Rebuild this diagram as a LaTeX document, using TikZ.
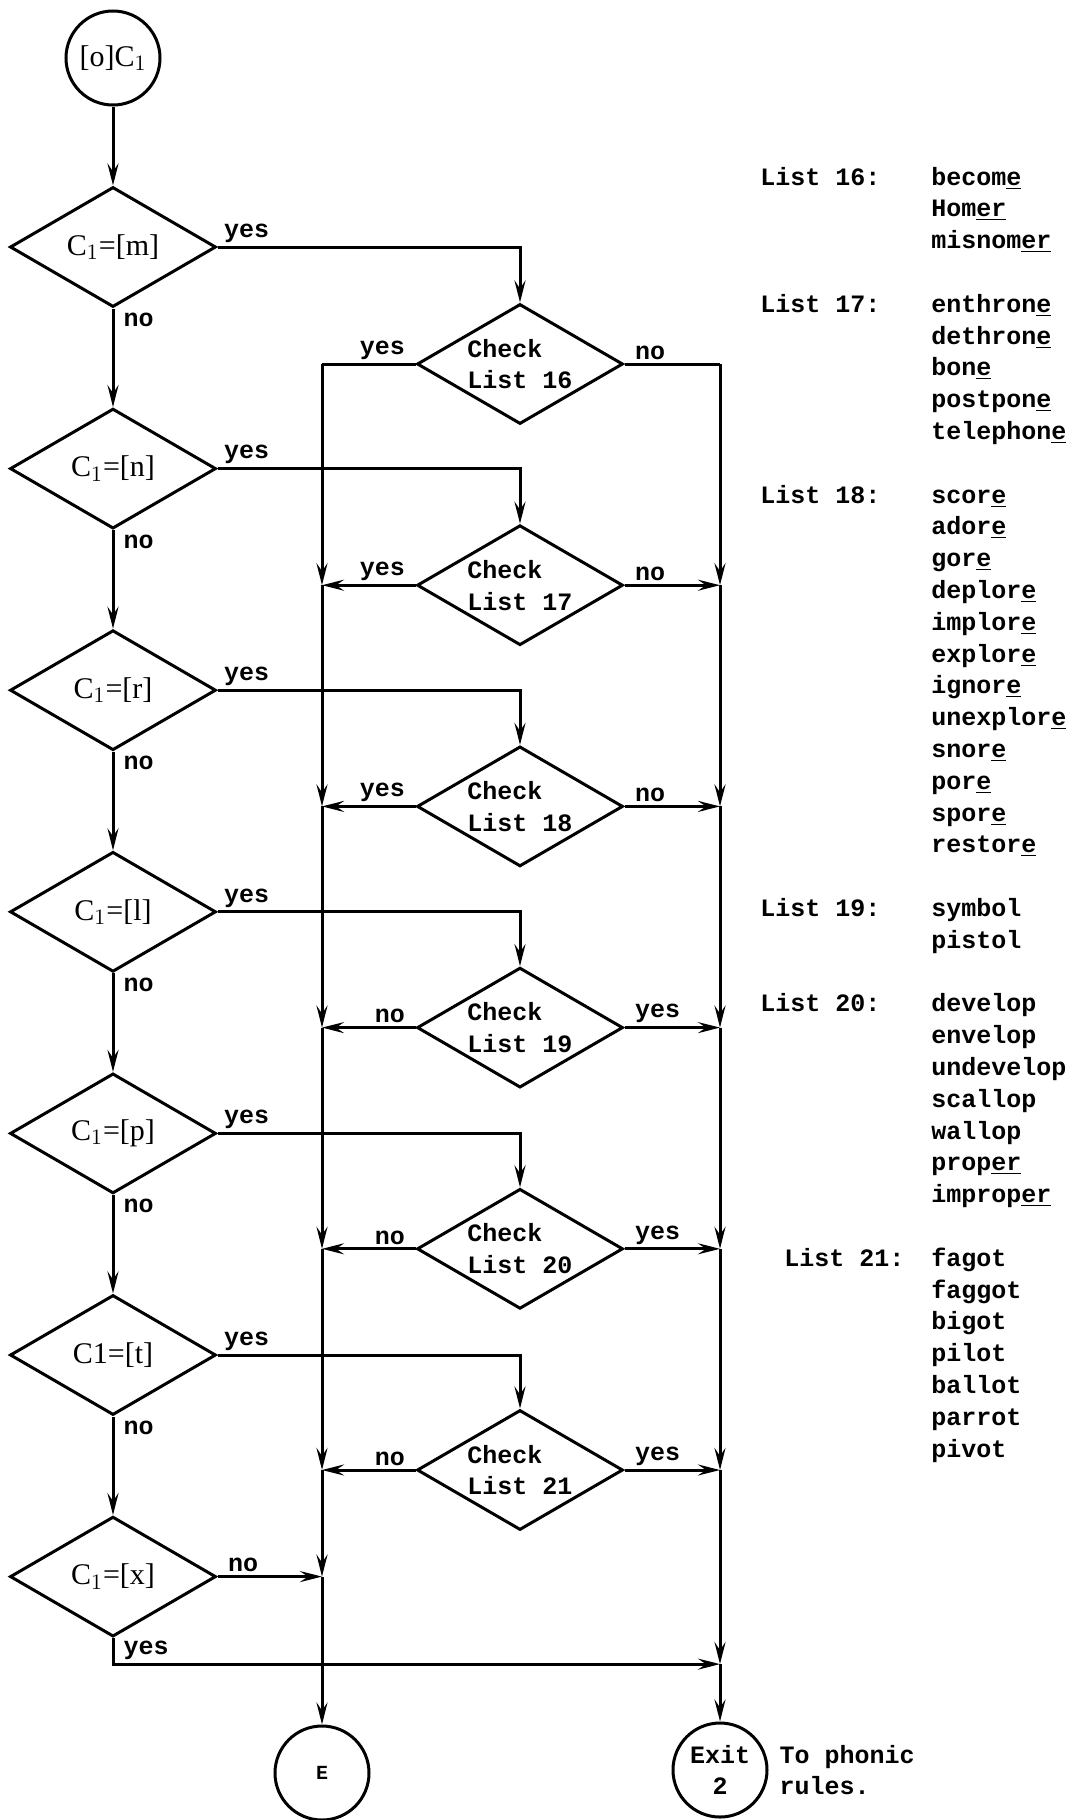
\documentclass[tikz,border=0pt]{standalone}
\usepackage{fontspec}
\setmainfont{Liberation Serif}
\setmonofont{Liberation Mono}
\usepackage{tikz}
\usetikzlibrary{positioning,arrows.meta,shapes.geometric}
\newcommand{\ule}[1]{\underline{#1}}

\begin{document}
\begin{tikzpicture}[
  x=0.5pt,y=-0.5pt,
  font=\ttfamily\bfseries\fontsize{12.5}{15.9}\selectfont,
  term/.style={draw,circle,line width=1.5pt,minimum size=47pt,inner sep=0pt,align=center},
  test/.style={draw,diamond,aspect=1.7,line width=1.5pt,minimum width=103pt,minimum height=60pt,inner sep=0pt,align=left},
  cond/.style={test,font=\rmfamily\mdseries\fontsize{15}{17}\selectfont},
  ln/.style={line width=1.5pt},
  ar/.style={ln,-{Stealth[length=11pt,width=5.5pt,inset=4pt]}},
  yl/.style={pos=0,anchor=south west,inner sep=1.5pt,xshift=1pt},
  nl/.style={pos=0,anchor=north west,inner sep=1.5pt,xshift=3pt},
  wl/.style={pos=0,anchor=south east,inner sep=1.5pt,xshift=-3pt},
  el/.style={pos=0,anchor=south west,inner sep=1.5pt,xshift=3pt}
]
\useasboundingbox (0,0) rectangle (1088,1820);
% left column of tests
\node[term,font=\rmfamily\mdseries\fontsize{15}{17}\selectfont] (start) at (113,58) {[o]C$_1$};
\node[cond,below=39.5pt of start] (d1) {C$_1$=[m]};
\node[cond,below=49.3pt of d1] (d2) {C$_1$=[n]};
\node[cond,below=49.3pt of d2] (d3) {C$_1$=[r]};
\node[cond,below=49.3pt of d3] (d4) {C$_1$=[l]};
\node[cond,below=49.3pt of d4] (d5) {C$_1$=[p]};
\node[cond,below=49.3pt of d5] (d6) {C1=[t]};
\node[cond,below=49.3pt of d6] (d7) {C$_1$=[x]};
% list checks
\node[test] (k16) at (520,364) {Check\\List 16};
\node[test,below=49.1pt of k16] (k17) {Check\\List 17};
\node[test,below=49.1pt of k17] (k18) {Check\\List 18};
\node[test,below=49.1pt of k18] (k19) {Check\\List 19};
\node[test,below=49.1pt of k19] (k20) {Check\\List 20};
\node[test,below=49.1pt of k20] (k21) {Check\\List 21};
% exits
\node[term] (E) at (322,1773) {\fontsize{10}{12}\selectfont E};
\node[term] (x2) at (720,1770) {Exit\\2};
\node[right=2pt of x2,align=left] (note) {To phonic\\rules.};
\coordinate (ltop) at (E |- k16.west);
\coordinate (rtop) at (x2 |- k16.east);
\coordinate[below=13pt of d7.south] (xbend);
% word lists
\node[anchor=base west,inner sep=0pt] (lists) at (760,185) {%
\begin{tabular}[t]{@{}p{85.5pt}@{}l@{}}
List 16: & becom\ule{e}\\
 & Hom\ule{er}\\
 & misnom\ule{er}\\
 & \\
List 17: & enthron\ule{e}\\
 & dethron\ule{e}\\
 & bon\ule{e}\\
 & postpon\ule{e}\\
 & telephon\ule{e}\\
 & \\
List 18: & scor\ule{e}\\
 & ador\ule{e}\\
 & gor\ule{e}\\
 & deplor\ule{e}\\
 & implor\ule{e}\\
 & explor\ule{e}\\
 & ignor\ule{e}\\
 & unexplor\ule{e}\\
 & snor\ule{e}\\
 & por\ule{e}\\
 & spor\ule{e}\\
 & restor\ule{e}\\
 & \\
List 19: & symbol\\
 & pistol\\
 & \\
List 20: & develop\\
 & envelop\\
 & undevelop\\
 & scallop\\
 & wallop\\
 & prop\ule{er}\\
 & improp\ule{er}\\
 & \\
\hspace*{12pt}List 21: & fagot\\
 & faggot\\
 & bigot\\
 & pilot\\
 & ballot\\
 & parrot\\
 & pivot
\end{tabular}};
% connectors
\draw[ar] (start) -- (d1);
\draw[ar] (d1) -- node[nl]{no} (d2); \draw[ar] (d2) -- node[nl]{no} (d3);
\draw[ar] (d3) -- node[nl]{no} (d4); \draw[ar] (d4) -- node[nl]{no} (d5);
\draw[ar] (d5) -- node[nl]{no} (d6); \draw[ar] (d6) -- node[nl]{no} (d7);
\draw[ar] (d1.east) -| node[yl]{yes} (k16.north); \draw[ar] (d2.east) -| node[yl]{yes} (k17.north);
\draw[ar] (d3.east) -| node[yl]{yes} (k18.north); \draw[ar] (d4.east) -| node[yl]{yes} (k19.north);
\draw[ar] (d5.east) -| node[yl]{yes} (k20.north); \draw[ar] (d6.east) -| node[yl]{yes} (k21.north);
\draw[ln] (k16.west) -- node[wl]{yes} (ltop); \draw[ln] (k16.east) -- node[el]{no} (rtop);
\draw[ar] (k17.west) -- node[wl]{yes} (ltop |- k17.west); \draw[ar] (k17.east) -- node[el]{no} (rtop |- k17.east);
\draw[ar] (k18.west) -- node[wl]{yes} (ltop |- k18.west); \draw[ar] (k18.east) -- node[el]{no} (rtop |- k18.east);
\draw[ar] (k19.west) -- node[wl]{no} (ltop |- k19.west); \draw[ar] (k19.east) -- node[el]{yes} (rtop |- k19.east);
\draw[ar] (k20.west) -- node[wl]{no} (ltop |- k20.west); \draw[ar] (k20.east) -- node[el]{yes} (rtop |- k20.east);
\draw[ar] (k21.west) -- node[wl]{no} (ltop |- k21.west); \draw[ar] (k21.east) -- node[el]{yes} (rtop |- k21.east);
\draw[ar] (d7.east) -- node[el]{no} (ltop |- d7.east);
\draw[ar] (d7.south) -- (xbend) -- node[yl,xshift=2pt]{yes} (rtop |- xbend);
% trunk lines
\draw[ar] (ltop) -- (ltop |- k17.west); \draw[ar] (ltop |- k17.west) -- (ltop |- k18.west);
\draw[ar] (ltop |- k18.west) -- (ltop |- k19.west); \draw[ar] (ltop |- k19.west) -- (ltop |- k20.west);
\draw[ar] (ltop |- k20.west) -- (ltop |- k21.west); \draw[ar] (ltop |- k21.west) -- (ltop |- d7.east);
\draw[ar] (ltop |- d7.east) -- (E);
\draw[ar] (rtop) -- (rtop |- k17.east); \draw[ar] (rtop |- k17.east) -- (rtop |- k18.east);
\draw[ar] (rtop |- k18.east) -- (rtop |- k19.east); \draw[ar] (rtop |- k19.east) -- (rtop |- k20.east);
\draw[ar] (rtop |- k20.east) -- (rtop |- k21.east); \draw[ar] (rtop |- k21.east) -- (rtop |- xbend);
\draw[ar] (rtop |- xbend) -- (x2);
\end{tikzpicture}
\end{document}
